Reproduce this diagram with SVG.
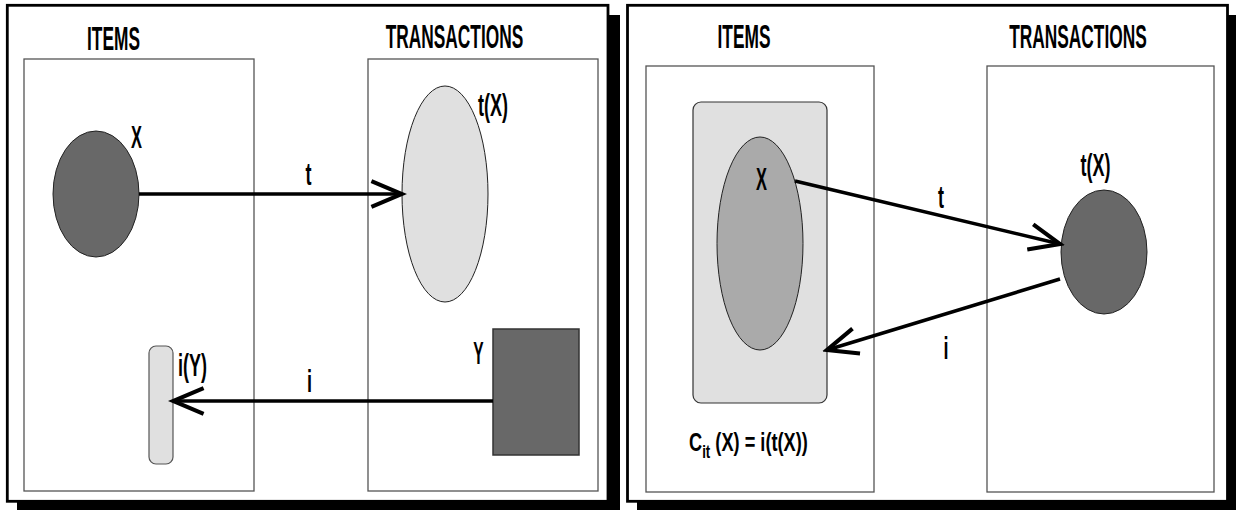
<svg xmlns="http://www.w3.org/2000/svg" width="1236" height="510" viewBox="0 0 1236 510">
  <defs>
    <marker id="arr" markerUnits="userSpaceOnUse" markerWidth="40" markerHeight="40" viewBox="-30 -15 34 30" refX="0" refY="0" orient="auto">
      <path d="M -26 -11 L 0 0 L -26 11" fill="none" stroke="#000" stroke-width="3.5" stroke-linejoin="miter"/>
    </marker>
  </defs>
  <style>
    .shadow { fill: #000; }
    .frame { fill: #fff; stroke: #000; stroke-width: 2.8; }
    .box { fill: #fff; stroke: #555; stroke-width: 1.3; }
    .title { font-family: "Liberation Sans", Arial, sans-serif; font-weight: bold; font-size: 33px; fill: #000; text-anchor: middle; }
    .lbl { font-family: "Liberation Sans", Arial, sans-serif; font-weight: bold; font-size: 31px; fill: #000; text-anchor: middle; }
    .f { font-family: "Liberation Sans", Arial, sans-serif; font-weight: bold; font-size: 26px; fill: #000; }
    .dark { fill: #686868; stroke: #222; stroke-width: 1; }
    .light { fill: #e0e0e0; stroke: #222; stroke-width: 1; }
    .mid { fill: #aaaaaa; stroke: #222; stroke-width: 1; }
    .conn { fill: none; stroke: #000; stroke-width: 3.5; marker-end: url(#arr); }
  </style>

  <g id="panel-left">
    <rect class="shadow" x="17" y="15" width="603" height="495"/>
    <rect class="frame" x="7.3" y="5.3" width="600.7" height="496"/>
    <rect class="box" x="24" y="59" width="230" height="432"/>
    <rect class="box" x="368" y="59" width="230" height="432"/>
    <text class="title" transform="translate(113.5,50) scale(0.525,1)">ITEMS</text>
    <text class="title" transform="translate(454.5,48) scale(0.525,1)">TRANSACTIONS</text>
  </g>

  <g id="panel-right">
    <rect class="shadow" x="637" y="15" width="610" height="495"/>
    <rect class="frame" x="627.5" y="5.3" width="600" height="496"/>
    <rect class="box" x="646" y="66" width="228" height="426"/>
    <rect class="box" x="987" y="66" width="227" height="426"/>
    <text class="title" transform="translate(744,48) scale(0.525,1)">ITEMS</text>
    <text class="title" transform="translate(1078,48) scale(0.525,1)">TRANSACTIONS</text>
  </g>

  <g id="node-X-left">
    <ellipse class="dark" cx="96" cy="194" rx="43" ry="63"/>
    <text class="lbl" transform="translate(136.5,148) scale(0.53,1)">X</text>
  </g>
  <g id="node-tX-left">
    <ellipse class="light" cx="445" cy="194" rx="43" ry="108"/>
    <text class="lbl" transform="translate(493,116) scale(0.58,1)">t(X)</text>
  </g>
  <g id="node-Y-left">
    <rect x="493" y="329" width="86" height="126" fill="#686868" stroke="#333" stroke-width="1.5"/>
    <text class="lbl" transform="translate(478.5,364) scale(0.5,1)">Y</text>
  </g>
  <g id="node-iY-left">
    <rect x="149" y="346" width="24" height="118" rx="7" ry="7" fill="#e0e0e0" stroke="#555" stroke-width="1.2"/>
    <text class="lbl" transform="translate(192.5,376) scale(0.58,1)">i(Y)</text>
  </g>

  <g id="node-closure-right">
    <rect x="693" y="102" width="134" height="301" rx="8" ry="8" fill="#e0e0e0" stroke="#333" stroke-width="1.2"/>
    <text class="f" transform="translate(689,451) scale(0.7,1)">C<tspan dy="7" style="font-size:19px">it</tspan><tspan dy="-7"> (X) = i(t(X))</tspan></text>
  </g>
  <g id="node-X-right">
    <ellipse class="mid" cx="760" cy="243.5" rx="43" ry="106.5"/>
    <text class="lbl" transform="translate(761.5,190) scale(0.53,1)">X</text>
  </g>
  <g id="node-tX-right">
    <ellipse class="dark" cx="1104" cy="252" rx="43" ry="62"/>
    <text class="lbl" transform="translate(1095.5,176) scale(0.58,1)">t(X)</text>
  </g>

  <g id="connectors">
    <line class="conn" x1="139" y1="194" x2="402" y2="194"/>
    <line class="conn" x1="493" y1="401" x2="173" y2="401"/>
    <line class="conn" x1="795" y1="181" x2="1060" y2="244"/>
    <line class="conn" x1="1060" y1="279" x2="827" y2="350"/>
    <text class="lbl" transform="translate(308.5,185) scale(0.58,1)">t</text>
    <text class="lbl" transform="translate(309.5,392) scale(0.58,1)">i</text>
    <text class="lbl" transform="translate(941,208) scale(0.58,1)">t</text>
    <text class="lbl" transform="translate(946,359) scale(0.58,1)">i</text>
  </g>
</svg>
